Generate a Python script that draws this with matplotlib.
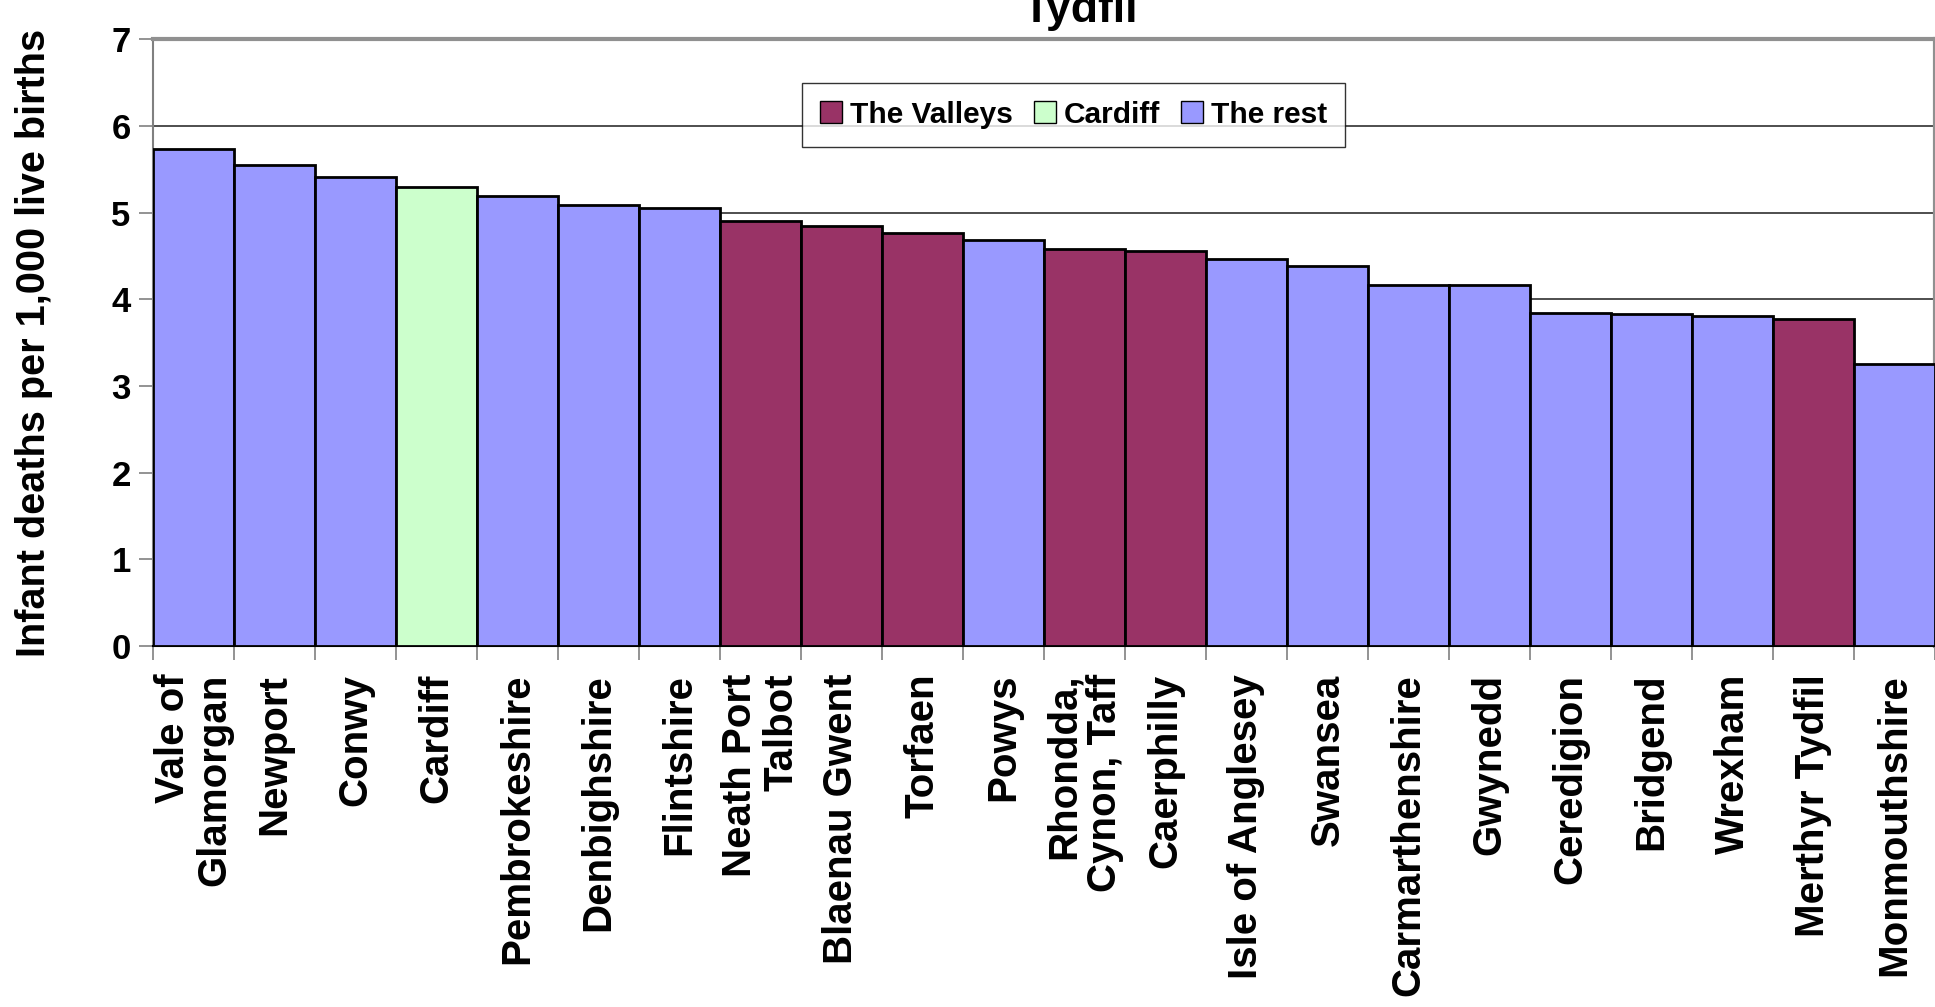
import numpy as np
from matplotlib import pyplot as plt
from matplotlib.patches import Patch

plt.rcParams['font.family'] = ['Liberation Sans', 'DejaVu Sans']
plt.rcParams['font.weight'] = 'bold'

areas = ["Vale of\nGlamorgan", "Newport", "Conwy", "Cardiff", "Pembrokeshire",
         "Denbighshire", "Flintshire", "Neath Port\nTalbot", "Blaenau Gwent",
         "Torfaen", "Powys", "Rhondda,\nCynon, Taff", "Caerphilly",
         "Isle of Anglesey", "Swansea", "Carmarthenshire", "Gwynedd",
         "Ceredigion", "Bridgend", "Wrexham", "Merthyr Tydfil", "Monmouthshire"]
rates = [5.73, 5.55, 5.41, 5.29, 5.19, 5.09, 5.05, 4.90, 4.84, 4.76, 4.68,
         4.58, 4.56, 4.47, 4.38, 4.16, 4.16, 3.84, 3.83, 3.81, 3.77, 3.25]
groups = ["rest", "rest", "rest", "cardiff", "rest", "rest", "rest", "valleys",
          "valleys", "valleys", "rest", "valleys", "valleys", "rest", "rest",
          "rest", "rest", "rest", "rest", "rest", "valleys", "rest"]

colours = {"valleys": "#993366", "cardiff": "#CCFFCC", "rest": "#9999FF"}

fig = plt.figure(figsize=(19.35, 10.07), dpi=100)
ax = fig.add_axes([0.079, 0.3585, 0.921, 0.6025])

x = np.arange(len(areas))
ax.bar(x, rates, width=1.0, color=[colours[g] for g in groups],
       edgecolor='black', linewidth=2, zorder=3)

ax.set_xlim(-0.5, len(areas) - 0.5)
ax.set_ylim(0, 7)
ax.set_yticks(range(8))
ax.yaxis.grid(True, color='#303030', linewidth=1.2, zorder=0)

ax.set_xticks(x)
ax.set_xticks(np.arange(-0.5, len(areas)), minor=True)
ax.set_xticklabels(areas, rotation=90, fontsize=29, fontweight='bold',
                   ha='center', va='top', linespacing=1.12)
for lbl in ax.get_xticklabels():
    lbl.set_multialignment('right')
ax.tick_params(axis='x', which='major', length=0, pad=20)
ax.tick_params(axis='x', which='minor', length=10, width=1.2, color='#808080')
ax.tick_params(axis='y', length=10, width=1.2, color='#808080',
               labelsize=25, pad=6)

for s in ['top', 'right']:
    ax.spines[s].set_color('#909090')
    ax.spines[s].set_linewidth(3)
ax.spines['left'].set_color('#808080')
ax.spines['left'].set_linewidth(1.5)
ax.spines['bottom'].set_color('black')
ax.spines['bottom'].set_linewidth(1.5)

ax.set_ylabel('Infant deaths per 1,000 live births', fontsize=28.5,
              fontweight='bold')
ax.yaxis.set_label_coords(-0.056, 0.5)

# title is cut off at the top in the source, only its second line shows
fig.text(0.5585, 0.978, 'Tydfil', fontsize=32, fontweight='bold',
         ha='center', va='baseline')

handles = [Patch(facecolor=colours["valleys"], edgecolor='black', label='The Valleys'),
           Patch(facecolor=colours["cardiff"], edgecolor='black', label='Cardiff'),
           Patch(facecolor=colours["rest"], edgecolor='black', label='The rest')]
leg = fig.legend(handles=handles, loc='center', bbox_to_anchor=(0.5547, 0.886),
                 ncol=3, fontsize=21.5, frameon=True, fancybox=False,
                 handlelength=0.75, handleheight=0.75, handletextpad=0.25,
                 columnspacing=0.7, borderpad=0.6)
leg.get_frame().set_edgecolor('black')
leg.get_frame().set_linewidth(1.0)
for t in leg.get_texts():
    t.set_fontweight('bold')

fig.savefig('out.png', dpi=100)
